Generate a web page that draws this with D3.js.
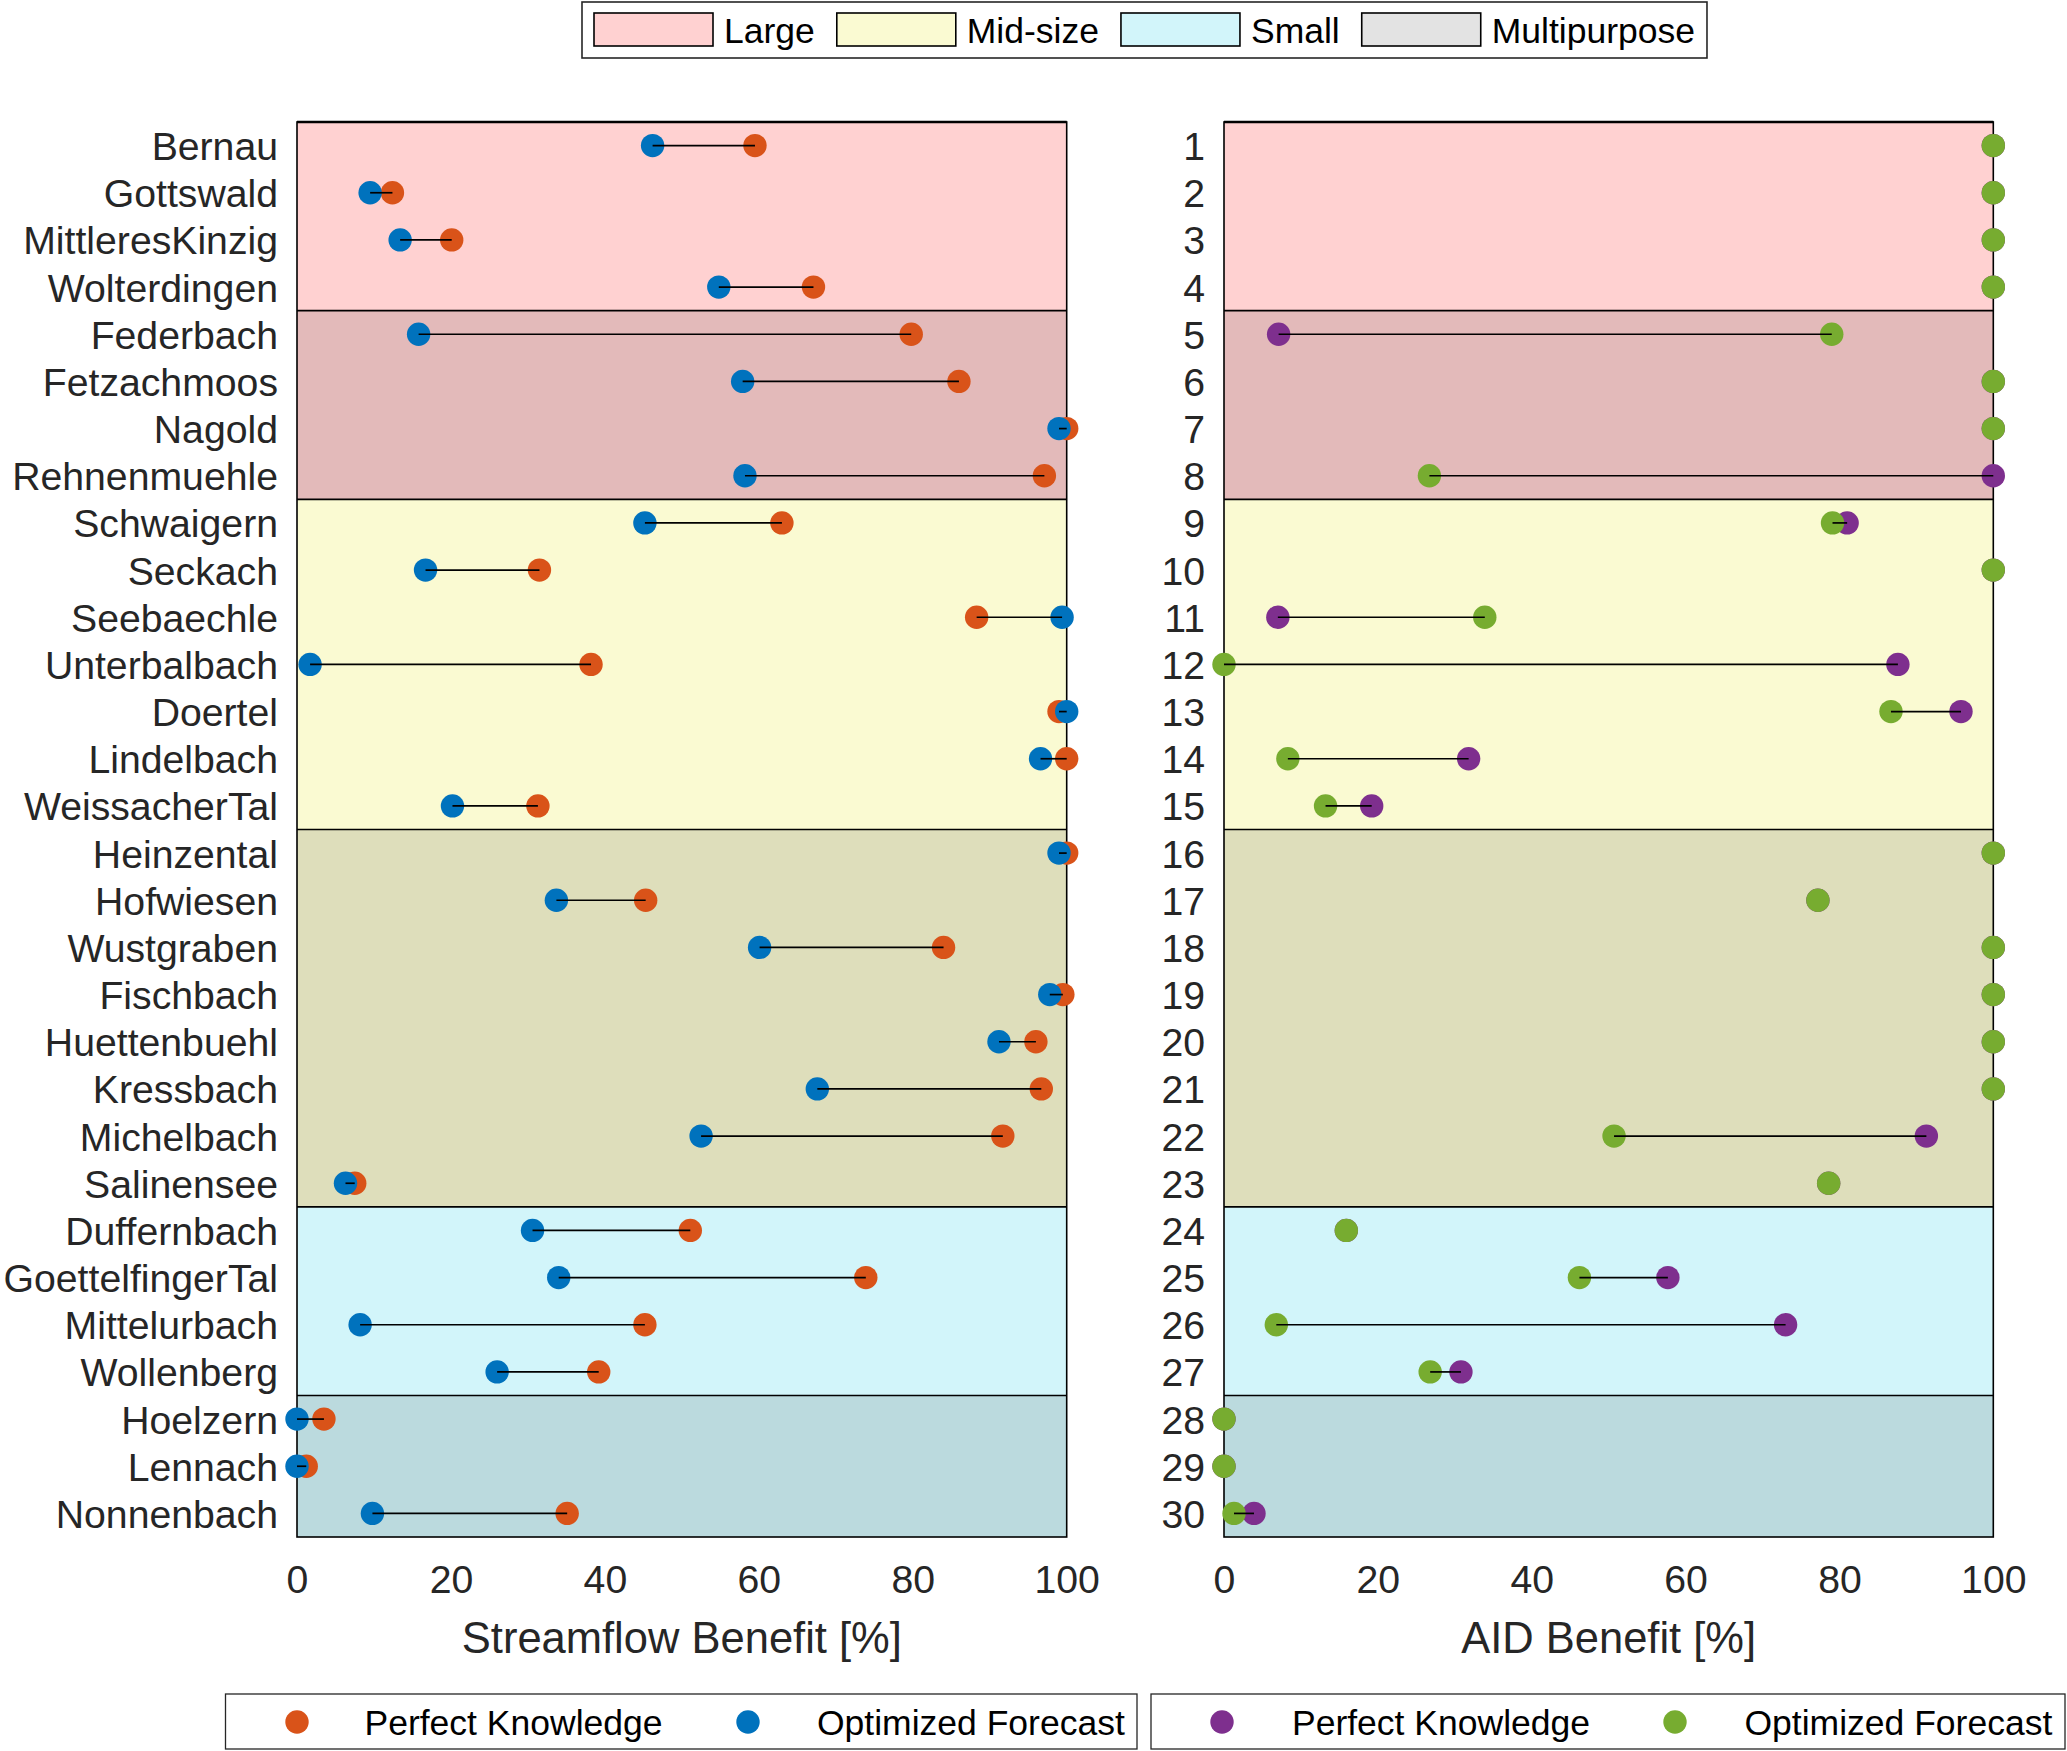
<!DOCTYPE html>
<html>
<head>
<meta charset="utf-8">
<script src="https://cdn.jsdelivr.net/npm/d3@7"></script>
<style>
  body { margin: 0; background: #fff; }
  text { font-family: "Liberation Sans", Arial, sans-serif; }
</style>
</head>
<body>
<div id="chart"></div>
<script>
// station names (top to bottom)
var stations = ["Bernau", "Gottswald", "MittleresKinzig", "Wolterdingen", "Federbach", "Fetzachmoos",
    "Nagold", "Rehnenmuehle", "Schwaigern", "Seckach", "Seebaechle", "Unterbalbach", "Doertel",
    "Lindelbach", "WeissacherTal", "Heinzental", "Hofwiesen", "Wustgraben", "Fischbach",
    "Huettenbuehl", "Kressbach", "Michelbach", "Salinensee", "Duffernbach", "GoettelfingerTal",
    "Mittelurbach", "Wollenberg", "Hoelzern", "Lennach", "Nonnenbach"];

// reservoir size class and multipurpose flag per station
var sizeOf = ["Large", "Large", "Large", "Large", "Large", "Large", "Large", "Large",
    "Mid-size", "Mid-size", "Mid-size", "Mid-size", "Mid-size", "Mid-size", "Mid-size",
    "Mid-size", "Mid-size", "Mid-size", "Mid-size", "Mid-size", "Mid-size", "Mid-size", "Mid-size",
    "Small", "Small", "Small", "Small", "Small", "Small", "Small"];
var multiOf = [0, 0, 0, 0, 1, 1, 1, 1, 0, 0, 0, 0, 0, 0, 0, 1, 1, 1, 1, 1, 1, 1, 1, 0, 0, 0, 0, 1, 1, 1];

// streamflow benefit [%]
var sfPerfect = [59.5, 12.4, 20.1, 67.1, 79.8, 86.0, 100, 97.1, 63.0, 31.5, 88.3, 38.2, 99.0, 100, 31.3,
    100, 45.3, 84.0, 99.5, 96.0, 96.7, 91.7, 7.5, 51.1, 73.9, 45.2, 39.2, 3.5, 1.2, 35.1];
var sfForecast = [46.2, 9.5, 13.4, 54.8, 15.8, 57.9, 99.0, 58.2, 45.2, 16.7, 99.4, 1.7, 100, 96.6, 20.2,
    99.0, 33.7, 60.1, 97.8, 91.2, 67.6, 52.5, 6.3, 30.6, 34.0, 8.2, 26.0, 0, 0, 9.8];

// AID benefit [%]
var aidPerfect = [100, 100, 100, 100, 7.1, 100, 100, 100, 81.0, 100, 7.0, 87.6, 95.8, 31.8, 19.2,
    100, 77.2, 100, 100, 100, 100, 91.3, 78.6, 15.9, 57.7, 73.0, 30.8, 0, 0, 3.9];
var aidForecast = [100, 100, 100, 100, 79.0, 100, 100, 26.7, 79.1, 100, 33.9, 0, 86.7, 8.3, 13.2,
    100, 77.2, 100, 100, 100, 100, 50.7, 78.6, 15.9, 46.2, 6.8, 26.8, 0, 0, 1.3];

var xTicks = [0, 20, 40, 60, 80, 100];

var sizeColor = {"Large": "#FFD1D1", "Mid-size": "#FAFAD2", "Small": "#D2F5FA"};
var col = {sfP: "#D95319", sfF: "#0072BD", aidP: "#7E2F8E", aidF: "#77AC30"};

var W = 2067, H = 1751,
    plotTop = 122, plotBottom = 1537,
    r = 11.7,
    tickFont = 39.2, labelFont = 43.5, legFont = 35.5;

var svg = d3.select("#chart").append("svg")
    .attr("width", W)
    .attr("height", H);

var y = d3.scaleBand()
    .domain(d3.range(stations.length))
    .range([plotTop, plotBottom]);

// contiguous background blocks
var blocks = [];
sizeOf.forEach(function(s, i) {
    var last = blocks[blocks.length - 1];
    if (last && last.size == s && last.multi == multiOf[i]) last.end = i;
    else blocks.push({size: s, multi: multiOf[i], start: i, end: i});
});

function panel(x0, x1, perfect, forecast, cP, cF, labels, title) {
    var x = d3.scaleLinear().domain([0, 100]).range([x0, x1]);
    var g = svg.append("g");

    // background patches
    var b = g.selectAll(".blk").data(blocks).enter().append("g");
    b.append("rect")
        .attr("x", x(0))
        .attr("width", x(100) - x(0))
        .attr("y", function(d) { return y(d.start); })
        .attr("height", function(d) { return y(d.end) + y.bandwidth() - y(d.start); })
        .style("fill", function(d) { return sizeColor[d.size]; });
    b.filter(function(d) { return d.multi; }).append("rect")
        .attr("x", x(0))
        .attr("width", x(100) - x(0))
        .attr("y", function(d) { return y(d.start); })
        .attr("height", function(d) { return y(d.end) + y.bandwidth() - y(d.start); })
        .style("fill", "#000")
        .style("fill-opacity", 0.11);
    b.filter(function(d, i) { return i > 0; }).append("line")
        .attr("x1", x(0)).attr("x2", x(100))
        .attr("y1", function(d) { return y(d.start); })
        .attr("y2", function(d) { return y(d.start); })
        .style("stroke", "#000")
        .style("stroke-width", 1.6);

    // box
    g.append("rect")
        .attr("x", x(0)).attr("y", plotTop)
        .attr("width", x(100) - x(0)).attr("height", plotBottom - plotTop)
        .style("fill", "none")
        .style("stroke", "#000")
        .style("stroke-width", 1.6);
    g.append("line")
        .attr("x1", x(0)).attr("x2", x(100))
        .attr("y1", plotTop).attr("y2", plotTop)
        .style("stroke", "#000").style("stroke-width", 2.6);

    // axes
    var ya = g.append("g")
        .attr("transform", "translate(" + x(0) + ",0)")
        .call(d3.axisLeft(y).tickSize(0).tickPadding(19)
            .tickFormat(function(i) { return labels[i]; }));
    var xa = g.append("g")
        .attr("transform", "translate(0," + plotBottom + ")")
        .call(d3.axisBottom(x).tickValues(xTicks).tickSize(0).tickPadding(28));
    [ya, xa].forEach(function(a) {
        a.select(".domain").remove();
        a.selectAll("text")
            .style("font-size", tickFont + "px")
            .style("font-family", "'Liberation Sans', Arial, sans-serif")
            .style("fill", "#262626");
    });
    ya.selectAll("text").attr("dy", "0.37em");

    g.append("text")
        .attr("x", (x(0) + x(100)) / 2)
        .attr("y", 1653)
        .attr("text-anchor", "middle")
        .style("font-size", labelFont + "px")
        .style("fill", "#262626")
        .text(title);

    // dots: perfect, then forecast, connector on top
    var idx = d3.range(stations.length);
    g.selectAll(".p").data(idx).enter().append("circle")
        .attr("cx", function(i) { return x(perfect[i]); })
        .attr("cy", function(i) { return y(i) + y.bandwidth() / 2; })
        .attr("r", r)
        .style("fill", cP);
    g.selectAll(".f").data(idx).enter().append("circle")
        .attr("cx", function(i) { return x(forecast[i]); })
        .attr("cy", function(i) { return y(i) + y.bandwidth() / 2; })
        .attr("r", r)
        .style("fill", cF);
    g.selectAll(".c").data(idx).enter().append("line")
        .attr("x1", function(i) { return x(perfect[i]); })
        .attr("x2", function(i) { return x(forecast[i]); })
        .attr("y1", function(i) { return y(i) + y.bandwidth() / 2; })
        .attr("y2", function(i) { return y(i) + y.bandwidth() / 2; })
        .style("stroke", "#000")
        .style("stroke-width", 1.7);
}

panel(297, 1066.7, sfPerfect, sfForecast, col.sfP, col.sfF, stations, "Streamflow Benefit [%]");
panel(1224, 1993.3, aidPerfect, aidForecast, col.aidP, col.aidF,
    stations.map(function(d, i) { return String(i + 1); }), "AID Benefit [%]");

// top legend: size classes
var legItems = [
    {name: "Large", fill: sizeColor["Large"]},
    {name: "Mid-size", fill: sizeColor["Mid-size"]},
    {name: "Small", fill: sizeColor["Small"]},
    {name: "Multipurpose", fill: "#E3E3E3"}
];
var leg = svg.append("g");
var legBox = leg.append("rect")
    .attr("x", 582).attr("y", 2)
    .attr("height", 56)
    .style("fill", "#fff")
    .style("stroke", "#262626")
    .style("stroke-width", 1.6);
var lx = 594;
legItems.forEach(function(it) {
    leg.append("rect")
        .attr("x", lx).attr("y", 13)
        .attr("width", 119).attr("height", 33)
        .style("fill", it.fill)
        .style("stroke", "#000")
        .style("stroke-width", 1.6);
    var t = leg.append("text")
        .attr("x", lx + 130).attr("y", 43)
        .style("font-size", legFont + "px")
        .style("fill", "#000")
        .text(it.name);
    lx += 130 + t.node().getComputedTextLength() + 22;
});
legBox.attr("width", lx - 22 + 12 - 582);

// bottom legends: markers
function markerLegend(bx, bw, items) {
    var g = svg.append("g");
    g.append("rect")
        .attr("x", bx).attr("y", 1694)
        .attr("width", bw).attr("height", 55)
        .style("fill", "#fff")
        .style("stroke", "#262626")
        .style("stroke-width", 1.3);
    items.forEach(function(it) {
        g.append("circle")
            .attr("cx", it.cx).attr("cy", 1722)
            .attr("r", r)
            .style("fill", it.color);
        g.append("text")
            .attr("x", it.tx).attr("y", 1735)
            .style("font-size", legFont + "px")
            .style("fill", "#000")
            .text(it.name);
    });
}
markerLegend(225.5, 911.5, [
    {cx: 297, tx: 364.5, color: col.sfP, name: "Perfect Knowledge"},
    {cx: 748, tx: 817, color: col.sfF, name: "Optimized Forecast"}
]);
markerLegend(1151, 914, [
    {cx: 1222, tx: 1292, color: col.aidP, name: "Perfect Knowledge"},
    {cx: 1675, tx: 1744.5, color: col.aidF, name: "Optimized Forecast"}
]);
</script>
</body>
</html>
